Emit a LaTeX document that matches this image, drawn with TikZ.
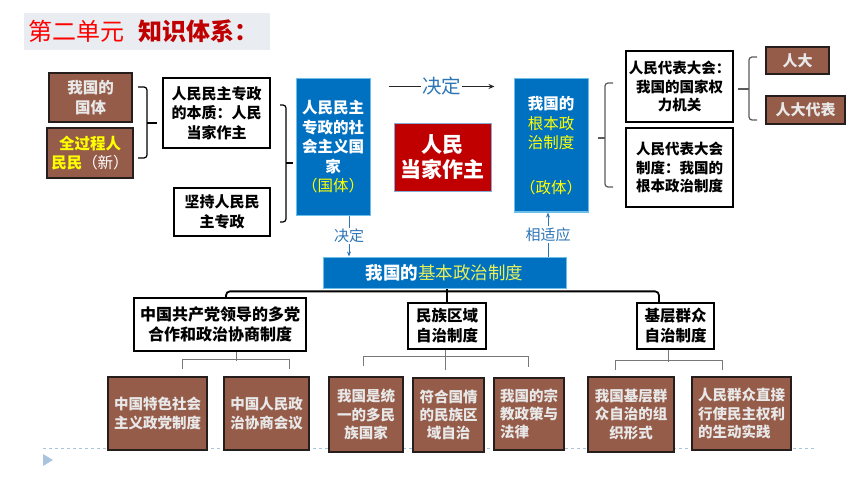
\documentclass[tikz,border=0pt]{standalone}
\usepackage{fontspec}
\setmainfont{Noto Sans CJK SC}
\usetikzlibrary{arrows.meta,calc}
\definecolor{brownF}{RGB}{149,92,73}
\definecolor{brownD}{RGB}{38,30,28}
\definecolor{lightT}{RGB}{232,232,232}
\definecolor{blueF}{RGB}{0,112,192}
\definecolor{blueB}{RGB}{110,190,235}
\definecolor{blueT}{RGB}{46,117,182}
\definecolor{redF}{RGB}{192,0,0}
\definecolor{ylw}{RGB}{255,255,0}
\definecolor{ylw2}{RGB}{232,240,90}
\definecolor{titlebg}{RGB}{233,237,242}
\definecolor{braceG}{RGB}{90,90,90}
\definecolor{subG}{RGB}{120,120,120}
\definecolor{dashB}{RGB}{170,196,222}
\newcommand\mybraceR[6]{\draw[bracestyle] (#1,#4) -- (#2,#4) -- (#2,#5) -- (#1,#5); \draw[bracestyle] (#2,#6) -- (#3,#6);}
\begin{document}
\begin{tikzpicture}[x=1pt,y=-1pt,
  bracestyle/.style={line width=1.2pt,rounded corners=3pt},
  wbox/.style={draw=black,line width=1.3pt,fill=white,align=center,inner sep=0pt,font=\bfseries\fontsize{15}{19.5}\selectfont},
  brbox/.style={draw=brownD,line width=1.3pt,fill=brownF,text=lightT,align=center,inner sep=0pt,font=\bfseries\fontsize{14.5}{18.3}\selectfont},
  bluebox/.style={draw=blueB,line width=1pt,fill=blueF,text=white,align=center,inner sep=0pt,font=\bfseries\fontsize{15.5}{19.5}\selectfont},
  mainline/.style={line width=1.8pt,rounded corners=4pt},
  subline/.style={draw=subG,line width=0.9pt},
  varrow/.style={draw=blueT,line width=0.8pt,-{Stealth[length=5pt,width=4pt]}},
  vlabel/.style={fill=white,text=blueT,inner sep=1pt,font=\fontsize{15}{17}\selectfont}
]
\useasboundingbox (0,0) rectangle (860,484);
% background dashed line and triangle
\draw[dashB,dashed,line width=0.8pt] (43,448) -- (817,448);
\fill[dashB] (43,454) -- (53,460) -- (43,466) -- cycle;
% title
\node[fill=titlebg,minimum width=246pt,minimum height=37pt,inner sep=0pt] (title) at (147,31.5) {};
\node[anchor=west,inner sep=0pt,font=\fontsize{24}{28}\selectfont] (titletxt) at (28,31.5) {{\color{red}第二单元}\hspace{14pt}{\color{redF}\bfseries 知识体系：}};
% left column
\node[brbox,font=\bfseries\fontsize{15.5}{19.5}\selectfont,minimum width=83pt,minimum height=49pt] (gq) at (90.5,97.5) {我国的\\国体};
\node[brbox,font=\bfseries\fontsize{15.5}{19.5}\selectfont,minimum width=86pt,minimum height=50pt] (qgc) at (90,153) {{\color{ylw}全过程人}\\{\color{ylw}民民}{\mdseries\color{white}（新）}};
\node[wbox,minimum width=107pt,minimum height=70pt] (bz) at (216.5,113) {人民民主专政\\的本质：人民\\当家作主};
\node[wbox,minimum width=96pt,minimum height=48pt] (jc) at (222,212) {坚持人民民\\主专政};
\mybraceR{138}{147}{157}{87}{158}{123}
\mybraceR{280}{286}{293}{105}{222}{163}
% centre
\node[bluebox,minimum width=74pt,minimum height=136pt] (b1) at (333,147) {人民民主\\专政的社\\会主义国\\家\\{\mdseries\color{ylw}（国体）}};
\node[draw=blueT!60,line width=0.6pt,fill=redF,text=white,inner sep=0pt,minimum width=97pt,minimum height=68pt,align=center,font=\bfseries\fontsize{21}{25}\selectfont] (red) at (442.5,157) {人民\\当家作主};
\node[bluebox,minimum width=74pt,minimum height=133pt] (b2) at (551,145.5) {我国的\\{\color{ylw}\mdseries 根本政}\\{\color{ylw}\mdseries 治制度}\\[25pt]{\color{ylw}\mdseries（政体）}};
\node[bluebox,minimum width=243pt,minimum height=31pt,font=\fontsize{17.5}{20}\selectfont] (bar) at (444.5,272.5) {{\bfseries 我国的}{\color{ylw2}基本政治制度}};
\draw[draw=black!85,line width=1pt,-{Stealth[length=6pt,width=5pt]}] ([xshift=18pt,yshift=-8pt]b1.north east) -- node[fill=white,text=blueT,inner sep=1pt,font=\fontsize{19.5}{22}\selectfont]{决定} ([xshift=-19pt,yshift=-8pt]b2.north west);
\draw[varrow] ([xshift=16pt]b1.south) -- node[vlabel]{决定} ([xshift=16pt]b1.south |- bar.north);
\draw[varrow] ([xshift=-3pt]b2.south |- bar.north) -- node[vlabel]{相适应} ([xshift=-3pt]b2.south);
% right column
\node[wbox,font=\bfseries\fontsize{14.5}{18.3}\selectfont,minimum width=107pt,minimum height=71pt] (rd1) at (679.5,86.5) {人民代表大会：\\我国的国家权\\力机关};
\node[wbox,font=\bfseries\fontsize{14.5}{18.3}\selectfont,minimum width=107pt,minimum height=79pt] (rd2) at (679.5,167.5) {人民代表大会\\制度：我国的\\根本政治制度};
\node[brbox,font=\bfseries\fontsize{15}{18}\selectfont,minimum width=63pt,minimum height=27pt] (rendai) at (797.5,60.5) {人大};
\node[brbox,font=\bfseries\fontsize{15}{18}\selectfont,minimum width=79pt,minimum height=28pt] (rddb) at (805.5,110) {人大代表};
\begin{scope}[braceG]
\mybraceR{613}{605}{598}{83}{187}{138}
\mybraceR{757}{749}{738}{57}{120}{89}
\end{scope}
% second tier
\node[wbox,font=\bfseries\fontsize{16}{20}\selectfont,minimum width=172pt,minimum height=53pt] (t1) at (220,324.5) {中国共产党领导的多党\\合作和政治协商制度};
\node[wbox,font=\bfseries\fontsize{15.5}{20}\selectfont,minimum width=78pt,minimum height=46pt] (t2) at (447,326) {民族区域\\自治制度};
\node[wbox,font=\bfseries\fontsize{15.5}{20}\selectfont,minimum width=77pt,minimum height=46pt] (t3) at (675.5,326) {基层群众\\自治制度};
\draw[mainline] ([xshift=6pt]t1.north) -- ++(0,-6) -| ([xshift=-16.5pt]t3.north);
\draw[line width=1.8pt] (bar.south -| t2.north) -- (t2.north);
% third tier
\node[brbox,minimum width=99pt,minimum height=73pt] (c1) at (157.5,413.5) {中国特色社会\\主义政党制度};
\node[brbox,minimum width=85pt,minimum height=73pt] (c2) at (266.5,413.5) {中国人民政\\治协商会议};
\node[brbox,minimum width=74pt,minimum height=75pt] (c3) at (366,414.5) {我国是统\\一的多民\\族国家};
\node[brbox,minimum width=71pt,minimum height=74pt] (c4) at (448.5,415) {符合国情\\的民族区\\域自治};
\node[brbox,align=left,minimum width=70pt,minimum height=72pt] (c5) at (529,414) {我国的宗\\教政策与\\法律};
\node[brbox,minimum width=86pt,minimum height=75pt] (c6) at (631,414.5) {我国基层群\\众自治的组\\织形式};
\node[brbox,align=left,minimum width=99pt,minimum height=73pt] (c7) at (741.5,413.5) {人民群众直接\\行使民主权利\\的生动实践};
% sub brackets
\draw[subline] ([xshift=16pt]t1.south) -- ++(0,9);
\draw[subline] ([xshift=24.5pt,yshift=7pt]c1.north) -- ++(0,-10) -| ([xshift=22.5pt,yshift=7pt]c2.north);
\draw[subline] ([xshift=-2pt]t2.south) -- ([xshift=-2pt,yshift=7pt]t2.south |- c4.north);
\draw[subline] ([xshift=-3pt,yshift=10pt]c3.north) -- ++(0,-10) -| ([xshift=-1pt,yshift=10pt]c5.north);
\draw[subline] ([xshift=-7.5pt]t3.south) -- ++(0,12);
\draw[subline] ([xshift=-16pt,yshift=6pt]c6.north) -- ++(0,-10) -| ([xshift=-19.5pt,yshift=6pt]c7.north);
\end{tikzpicture}
\end{document}
